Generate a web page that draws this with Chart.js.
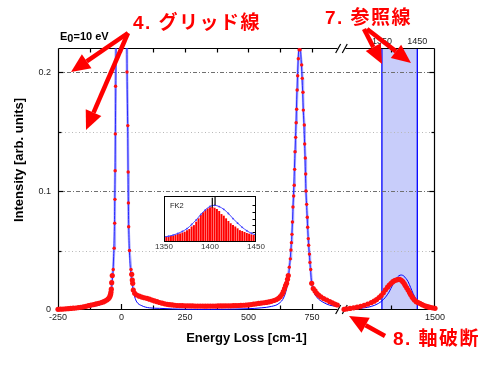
<!DOCTYPE html>
<html>
<head>
<meta charset="utf-8">
<script src="https://cdn.jsdelivr.net/npm/chart.js@4.4.1/dist/chart.umd.min.js"></script>
<style>
html, body { margin: 0; padding: 0; background: #fff; }
#wrap { position: relative; width: 496px; height: 381px; }
#main { position: absolute; left: 0; top: 0; }
#inset { position: absolute; left: 150px; top: 190px; }
</style>
</head>
<body>
<div id="wrap">
  <canvas id="main" width="496" height="381"></canvas>
  <canvas id="inset" width="120" height="64"></canvas>
</div>
<script>
// measured spectrum, left part of the broken axis
const measLeftX = [
  -250,-240,-230,-220,-210,-200,-190,-180,-170,-160,
  -150,-140,-130,-120,-110,-100,-90,-80,-72,-65,
  -58,-52,-48,-45,-43,-41.5,-40,-38.6,-36.3,-32.5,
  -29,-26.8,-25.8,-25,-24.3,-23.3,-20,-14,-7,0,
  7,14,19,21.6,24.8,26.2,27.2,28.3,31.5,37.4,
  40.2,42.5,44.1,46.5,52,60,70,80,90,100,
  110,120,130,140,150,160,170,180,190,200,
  210,220,230,240,250,260,270,280,290,300,
  310,320,330,340,350,360,370,380,390,400,
  410,420,430,440,450,460,470,480,490,500,
  510,520,530,540,550,560,570,580,590,600,
  610,618,625,632,637,642,646,650,653.5,656.7,
  660.6,664.6,667.3,669,671.2,673,675.2,677.9,680,681.8,
  683.2,685.8,687.6,689.7,691.5,693.7,696.1,699.3,701.3,703.2,
  709.4,711.8,714.5,715.9,719.7,721.3,723.6,725.2,726.4,729.1,
  731.5,733,735.4,737,740,742,745,748.8,755,762,
  768.5,776,785,796,808,820,830,840,849.6
];
const measLeftY = [
  .0006,.0007,.0008,.0010,.0011,.0013,.0015,.0017,.0020,.0023,
  .0027,.0031,.0036,.0041,.0046,.0051,.0056,.0062,.0068,.0075,
  .0084,.0094,.0105,.0118,.0132,.0150,.0175,.0230,.0290,.0340,
  .0520,.0730,.0930,.1170,.1480,.1880,.2600,.5200,.9000,1.05,
  .9000,.5200,.2600,.2000,.1550,.1160,.0900,.0700,.0500,.0340,
  .0300,.0252,.0224,.0168,.0140,.0126,.0116,.0109,.0103,.0098,
  .0091,.0083,.0076,.0070,.0063,.0057,.0052,.0048,.0045,.0043,
  .0040,.0038,.0037,.0036,.0035,.0035,.0034,.0034,.0033,.0033,
  .0033,.0033,.0032,.0033,.0033,.0033,.0033,.0034,.0034,.0034,
  .0035,.0035,.0035,.0036,.0037,.0038,.0039,.0040,.0041,.0043,
  .0046,.0049,.0052,.0055,.0058,.0061,.0064,.0068,.0073,.0080,
  .0088,.0098,.0112,.0132,.0154,.0180,.0205,.0224,.0258,.0290,
  .0360,.0430,.0504,.0566,.0636,.0740,.0866,.0958,.1048,.1182,
  .1330,.1451,.1574,.1687,.1849,.1969,.2112,.2187,.2280,.2187,
  .2060,.1947,.1830,.1680,.1555,.1395,.1277,.1143,.1000,.0888,
  .0780,.0695,.0600,.0544,.0470,.0400,.0340,.0224,.0180,.0160,
  .0140,.0125,.0110,.0096,.0084,.0070,.0060,.0050,.0042
];
// measured spectrum, right part (after the break)
const measRightX = [
  1243,1250,1260,1270,1280,1290,1300,1310,1320,
  1328,1335,1342,1348,1354,1360,1366,1371,1376,1381,
  1386,1390,1395,1400,1405,1409,1413,1416,1420,1424,
  1428,1431,1435,1438,1442,1447,1452,1457,1462,1466,
  1471,1476,1481,1486,1493,1500
];
const measRightY = [
  .0006,.0009,.0013,.0018,.0024,.0031,.0040,.0050,.0062,
  .0074,.0088,.0105,.0122,.0145,.0170,.0192,.0210,.0225,.0238,
  .0247,.0252,.0256,.0258,.0250,.0238,.0222,.0205,.0186,.0168,
  .0148,.0130,.0112,.0098,.0084,.0070,.0062,.0056,.0048,.0042,
  .0035,.0030,.0026,.0022,.0018,.0014
];
// fitted curve
const fitLeftX = [
  -250,-200,-150,-100,-75,-60,-50,-44,-40,-37,
  -34,-31,-28,-26,-24,-22,-20,-14,-6,0,
  6,14,20,22,24.5,26.5,28.5,31,34,37,
  41,46,52,60,80,110,150,200,257,300,
  350,400,450,500,550,590,620,640,652,660,
  666,671,676,681,686,691,696,701,706,711,
  716,721,726,731,736,742,748,756,770,790,
  820,850
];
const fitLeftY = [
  .0003,.0008,.0017,.0035,.0050,.0068,.0090,.0120,.0170,.0230,
  .0300,.0450,.0700,.1000,.1500,.2000,.2700,.5500,.9500,1.1,
  .9500,.5500,.2700,.2000,.1500,.1000,.0700,.0500,.0380,.0300,
  .0230,.0165,.0110,.0068,.0036,.0018,.0014,.0009,.0006,.0005,
  .0005,.0006,.0008,.0011,.0018,.0030,.0055,.0110,.0200,.0330,
  .0480,.0640,.0900,.1200,.1500,.1850,.2120,.2320,.2150,.1950,
  .1670,.1400,.1020,.0780,.0570,.0400,.0240,.0160,.0105,.0070,
  .0040,.0030
];
const fitRightX = [1243,1270,1300,1320,1340,1355,1370,1381,1390,1398,1405,1412,1418,1424,1431,1438,1448,1458,1467,1480,1500];
const fitRightY = [.0003,.0008,.0018,.0030,.0055,.0090,.0150,.0215,.0262,.0288,.0294,.0285,.0265,.0238,.0190,.0140,.0084,.0055,.0042,.0025,.0012];

const refLines = [1350, 1450];
const xLabelTicks = [-250, 0, 250, 500, 750, 1500];
const xTickMarks = [-125, 0, 125, 250, 375, 500, 625, 750, 1375];
const yLabelTicks = [0, 0.1, 0.2];
const yMinorTicks = [0.05, 0.15];

// inset FK2
const insetX = [];
for (let i = 0; i <= 40; i++) insetX.push(1350 + 2.5 * i);
const insetBars = [
  .110,.116,.123,.130,.138,.152,.167,.180,.200,.217,
  .246,.275,.330,.360,.435,.507,.580,.640,.690,.725,
  .746,.754,.739,.710,.667,.600,.565,.507,.450,.400,
  .362,.330,.290,.250,.232,.210,.188,.174,.160,.145,.130
];
const insetFitX = [1350,1355,1360,1365,1370,1375,1380,1385,1390,1395,1400,1405,1410,1415,1420,1425,1430,1435,1440,1445,1450];
const insetFitY = [.110,.125,.150,.185,.230,.290,.380,.480,.600,.700,.775,.797,.770,.710,.620,.510,.410,.320,.245,.190,.150];
const insetMarkX = [1402.5, 1405.5];
const insetMarkLow = [0.75, 0.80];
const insetMarkHigh = [0.96, 1.0];
const insetTicks = [1350, 1400, 1450];
const insetRightTicks = [0.22, 0.365, 0.51, 0.655, 0.8];

// axis break: -250..860 | 1240..1500, right part drawn wider
const breakLeftEnd = 860, breakRightStart = 1240, breakGap = 12, rightStretch = 1.3935;
const toD = v => v <= breakLeftEnd ? v : breakLeftEnd + breakGap + (v - breakRightStart) * rightStretch;
const xMaxD = toD(1500);

Chart.defaults.font.family = '"Liberation Sans", Arial, sans-serif';
Chart.defaults.color = '#222';

const pts = (xs, ys) => xs.map((v, i) => ({x: toD(v), y: ys[i]}));
const measured = pts(measLeftX, measLeftY).concat([{x: breakLeftEnd + breakGap / 2, y: null}], pts(measRightX, measRightY));
const fitted = pts(fitLeftX, fitLeftY).concat([{x: breakLeftEnd + breakGap / 2, y: null}], pts(fitRightX, fitRightY));

function seg(ctx, x1, y1, x2, y2) {
  ctx.beginPath(); ctx.moveTo(x1, y1); ctx.lineTo(x2, y2); ctx.stroke();
}

function arrow(ctx, x1, y1, x2, y2) {
  const ang = Math.atan2(y2 - y1, x2 - x1);
  const len = 19, half = 8.5;
  const bx = x2 - len * Math.cos(ang), by = y2 - len * Math.sin(ang);
  ctx.strokeStyle = '#ff0000'; ctx.fillStyle = '#ff0000';
  ctx.lineWidth = 4.5;
  seg(ctx, x1, y1, bx, by);
  ctx.beginPath();
  ctx.moveTo(x2, y2);
  ctx.lineTo(bx + half * Math.sin(ang), by - half * Math.cos(ang));
  ctx.lineTo(bx - half * Math.sin(ang), by + half * Math.cos(ang));
  ctx.closePath(); ctx.fill();
}

const decor = {
  id: 'decor',
  beforeDatasetsDraw(chart) {
    const {ctx, chartArea: a, scales: {x, y}} = chart;
    ctx.save();
    // reference band
    const r1 = x.getPixelForValue(toD(refLines[0])), r2 = x.getPixelForValue(toD(refLines[1]));
    ctx.fillStyle = 'rgb(200,205,250)';
    ctx.fillRect(r1, a.top, r2 - r1, a.bottom - a.top);
    ctx.strokeStyle = '#0000ff'; ctx.lineWidth = 1.3;
    seg(ctx, r1, a.top, r1, a.bottom);
    seg(ctx, r2, a.top, r2, a.bottom);
    // grid lines
    ctx.lineWidth = 1;
    ctx.strokeStyle = '#b8b8b8'; ctx.setLineDash([1, 2.5]);
    yMinorTicks.forEach(v => { const p = Math.round(y.getPixelForValue(v)) + 0.5; seg(ctx, a.left, p, a.right, p); });
    ctx.strokeStyle = '#707070'; ctx.setLineDash([4, 2, 1, 2]);
    yLabelTicks.filter(v => v > 0).forEach(v => { const p = Math.round(y.getPixelForValue(v)) + 0.5; seg(ctx, a.left, p, a.right, p); });
    ctx.setLineDash([]);
    // frame with break marks
    const L = a.left + 0.5, R = a.right - 0.5, T = a.top + 0.5, B = a.bottom - 0.5;
    const bp = x.getPixelForValue(breakLeftEnd + breakGap / 2);
    ctx.strokeStyle = '#000'; ctx.lineWidth = 1.2;
    seg(ctx, L, T, L, B);
    seg(ctx, R, T, R, B);
    [T, B].forEach(yy => { seg(ctx, L, yy, bp - 4, yy); seg(ctx, bp + 4, yy, R, yy); });
    [T, B].forEach(yy => [-3.3, 3.3].forEach(dx => seg(ctx, bp + dx - 2.5, yy + 4.5, bp + dx + 2.5, yy - 4.5)));
    // ticks, pointing inward
    xTickMarks.forEach(v => {
      const p = Math.round(x.getPixelForValue(toD(v))) + 0.5;
      seg(ctx, p, B, p, B - (v % 250 === 0 ? 5.5 : 4));
      seg(ctx, p, T, p, T + 4);
    });
    yLabelTicks.filter(v => v > 0).forEach(v => {
      const p = Math.round(y.getPixelForValue(v)) + 0.5;
      seg(ctx, L, p, L + 5, p); seg(ctx, R, p, R - 5, p);
    });
    yMinorTicks.forEach(v => {
      const p = Math.round(y.getPixelForValue(v)) + 0.5;
      seg(ctx, L, p, L + 3, p); seg(ctx, R, p, R - 3, p);
    });
    ctx.restore();
  },
  afterDraw(chart) {
    const {ctx} = chart;
    ctx.save();
    // y axis title
    ctx.fillStyle = '#000';
    ctx.font = 'bold 13px "Liberation Sans", Arial, sans-serif';
    ctx.textAlign = 'center'; ctx.textBaseline = 'middle';
    ctx.translate(19.5, 160); ctx.rotate(-Math.PI / 2);
    ctx.fillText('Intensity [arb. units]', 0, 0);
    ctx.setTransform(1, 0, 0, 1, 0, 0);
    // E0 label
    ctx.textAlign = 'left'; ctx.textBaseline = 'alphabetic';
    ctx.font = 'bold 11px "Liberation Sans", Arial, sans-serif';
    ctx.fillText('E', 60, 39.5);
    ctx.fillText('0', 67.3, 42);
    ctx.fillText('=10 eV', 73.5, 39.5);
    // red notes
    ctx.fillStyle = '#ff0000';
    ctx.font = 'bold 19px "Liberation Sans", "Noto Sans CJK JP", sans-serif';
    ctx.letterSpacing = '1.5px';
    ctx.fillText('4. グリッド線', 133, 28.5);
    ctx.fillText('7. 参照線', 325, 23.5);
    ctx.fillText('8. 軸破断', 393, 344.5);
    ctx.letterSpacing = '0px';
    arrow(ctx, 128, 33, 71, 72);
    arrow(ctx, 128, 33, 86, 130);
    arrow(ctx, 364, 29, 382, 64);
    arrow(ctx, 367, 29, 411, 63);
    arrow(ctx, 385, 336, 349, 316);
    ctx.restore();
  }
};

const clipBox = {left: 3, top: 0, right: 3, bottom: 3};

new Chart(document.getElementById('main'), {
  type: 'scatter',
  data: {
    datasets: [{
      label: 'measured',
      data: measured,
      showLine: true,
      borderColor: 'rgba(80,80,255,0.5)',
      borderWidth: 2.5,
      pointRadius: c => (c.raw && c.raw.y > 0.03) ? 1.7 : 2.6,
      pointBackgroundColor: '#ff1010',
      pointBorderWidth: 0,
      clip: clipBox
    }, {
      label: 'fit',
      data: fitted,
      showLine: true,
      borderColor: '#0000ff',
      borderWidth: 1,
      pointRadius: 0,
      cubicInterpolationMode: 'monotone',
      clip: clipBox
    }]
  },
  options: {
    responsive: false,
    animation: false,
    events: [],
    layout: {padding: {left: 0, right: 61, top: 0, bottom: 0}},
    plugins: {legend: {display: false}, tooltip: {enabled: false}},
    scales: {
      x: {
        type: 'linear', position: 'bottom', min: -250, max: xMaxD, bounds: 'data',
        afterBuildTicks: s => { s.ticks = xLabelTicks.map(v => ({value: toD(v)})); },
        afterFit: s => { s.height = 71; },
        grid: {display: false, drawTicks: false},
        border: {display: false},
        ticks: {
          font: {size: 9}, color: '#222', padding: 2.6, maxRotation: 0, autoSkip: false,
          callback: (v, i) => String(xLabelTicks[i])
        },
        title: {
          display: true, text: 'Energy Loss [cm-1]', color: '#000',
          font: {size: 13, weight: 'bold'}, padding: {top: 0, bottom: 35.2}
        }
      },
      xTop: {
        type: 'linear', axis: 'x', position: 'top', min: -250, max: xMaxD, bounds: 'data',
        afterBuildTicks: s => { s.ticks = refLines.map(v => ({value: toD(v)})); },
        afterFit: s => { s.height = 48; },
        grid: {display: false, drawTicks: false},
        border: {display: false},
        ticks: {
          font: {size: 9}, color: '#222', padding: 0.6, maxRotation: 0, autoSkip: false,
          callback: (v, i) => String(refLines[i])
        }
      },
      y: {
        type: 'linear', position: 'left', min: 0, max: 0.2202,
        afterBuildTicks: s => { s.ticks = yLabelTicks.map(v => ({value: v})); },
        afterFit: s => { s.width = 58; },
        grid: {display: false, drawTicks: false},
        border: {display: false},
        ticks: {
          font: {size: 9}, color: '#222', padding: 7,
          callback: v => v === 0 ? '0' : v.toFixed(1)
        }
      }
    }
  },
  plugins: [decor]
});

// inset
const insetDecor = {
  id: 'insetDecor',
  beforeDraw(chart) {
    const {ctx, chartArea: a} = chart;
    ctx.save();
    ctx.fillStyle = '#fff';
    ctx.fillRect(a.left, a.top, a.right - a.left, a.bottom - a.top);
    ctx.restore();
  },
  afterDraw(chart) {
    const {ctx, chartArea: a, scales: {y}} = chart;
    ctx.save();
    ctx.strokeStyle = '#000'; ctx.lineWidth = 1;
    ctx.strokeRect(a.left + 0.5, a.top + 0.5, a.right - a.left - 1, a.bottom - a.top - 1);
    insetRightTicks.forEach(v => {
      const p = Math.round(y.getPixelForValue(v)) + 0.5;
      seg(ctx, a.right - 0.5, p, a.right - 3.5, p);
    });
    ctx.fillStyle = '#222';
    ctx.font = '7.5px "Liberation Sans", Arial, sans-serif';
    ctx.textBaseline = 'middle';
    ctx.fillText('FK2', a.left + 6, a.top + 10);
    ctx.restore();
  }
};

new Chart(document.getElementById('inset'), {
  type: 'bar',
  data: {
    datasets: [
      {
        type: 'line',
        data: [{x: insetMarkX[0], y: insetMarkLow[0]}, {x: insetMarkX[0], y: insetMarkHigh[0]}],
        borderColor: '#000', borderWidth: 1.2, pointRadius: 0
      },
      {
        type: 'line',
        data: [{x: insetMarkX[1], y: insetMarkLow[1]}, {x: insetMarkX[1], y: insetMarkHigh[1]}],
        borderColor: '#000', borderWidth: 1.2, pointRadius: 0
      },
      {
        type: 'line',
        data: insetFitX.map((v, i) => ({x: v, y: insetFitY[i]})),
        borderColor: 'rgb(70,70,255)', borderWidth: 1,
        pointRadius: 0.9, pointBackgroundColor: 'rgb(70,70,255)', pointBorderWidth: 0,
        cubicInterpolationMode: 'monotone'
      },
      {
        type: 'bar',
        data: insetX.map((v, i) => ({x: v, y: insetBars[i]})),
        backgroundColor: '#ff0000',
        barThickness: 1.3
      }
    ]
  },
  options: {
    responsive: false,
    animation: false,
    events: [],
    layout: {padding: {left: 14, right: 14, top: 6, bottom: 0}},
    plugins: {legend: {display: false}, tooltip: {enabled: false}},
    scales: {
      x: {
        type: 'linear', min: 1350, max: 1450, offset: false, bounds: 'data',
        afterBuildTicks: s => { s.ticks = insetTicks.map(v => ({value: v})); },
        afterFit: s => { s.height = 12; },
        grid: {display: false, drawTicks: false, offset: false},
        border: {display: false},
        ticks: {
          font: {size: 8}, color: '#333', padding: 0.2, maxRotation: 0, autoSkip: false,
          callback: v => String(v)
        }
      },
      y: {display: false, min: 0, max: 1}
    }
  },
  plugins: [insetDecor]
});
</script>
</body>
</html>
